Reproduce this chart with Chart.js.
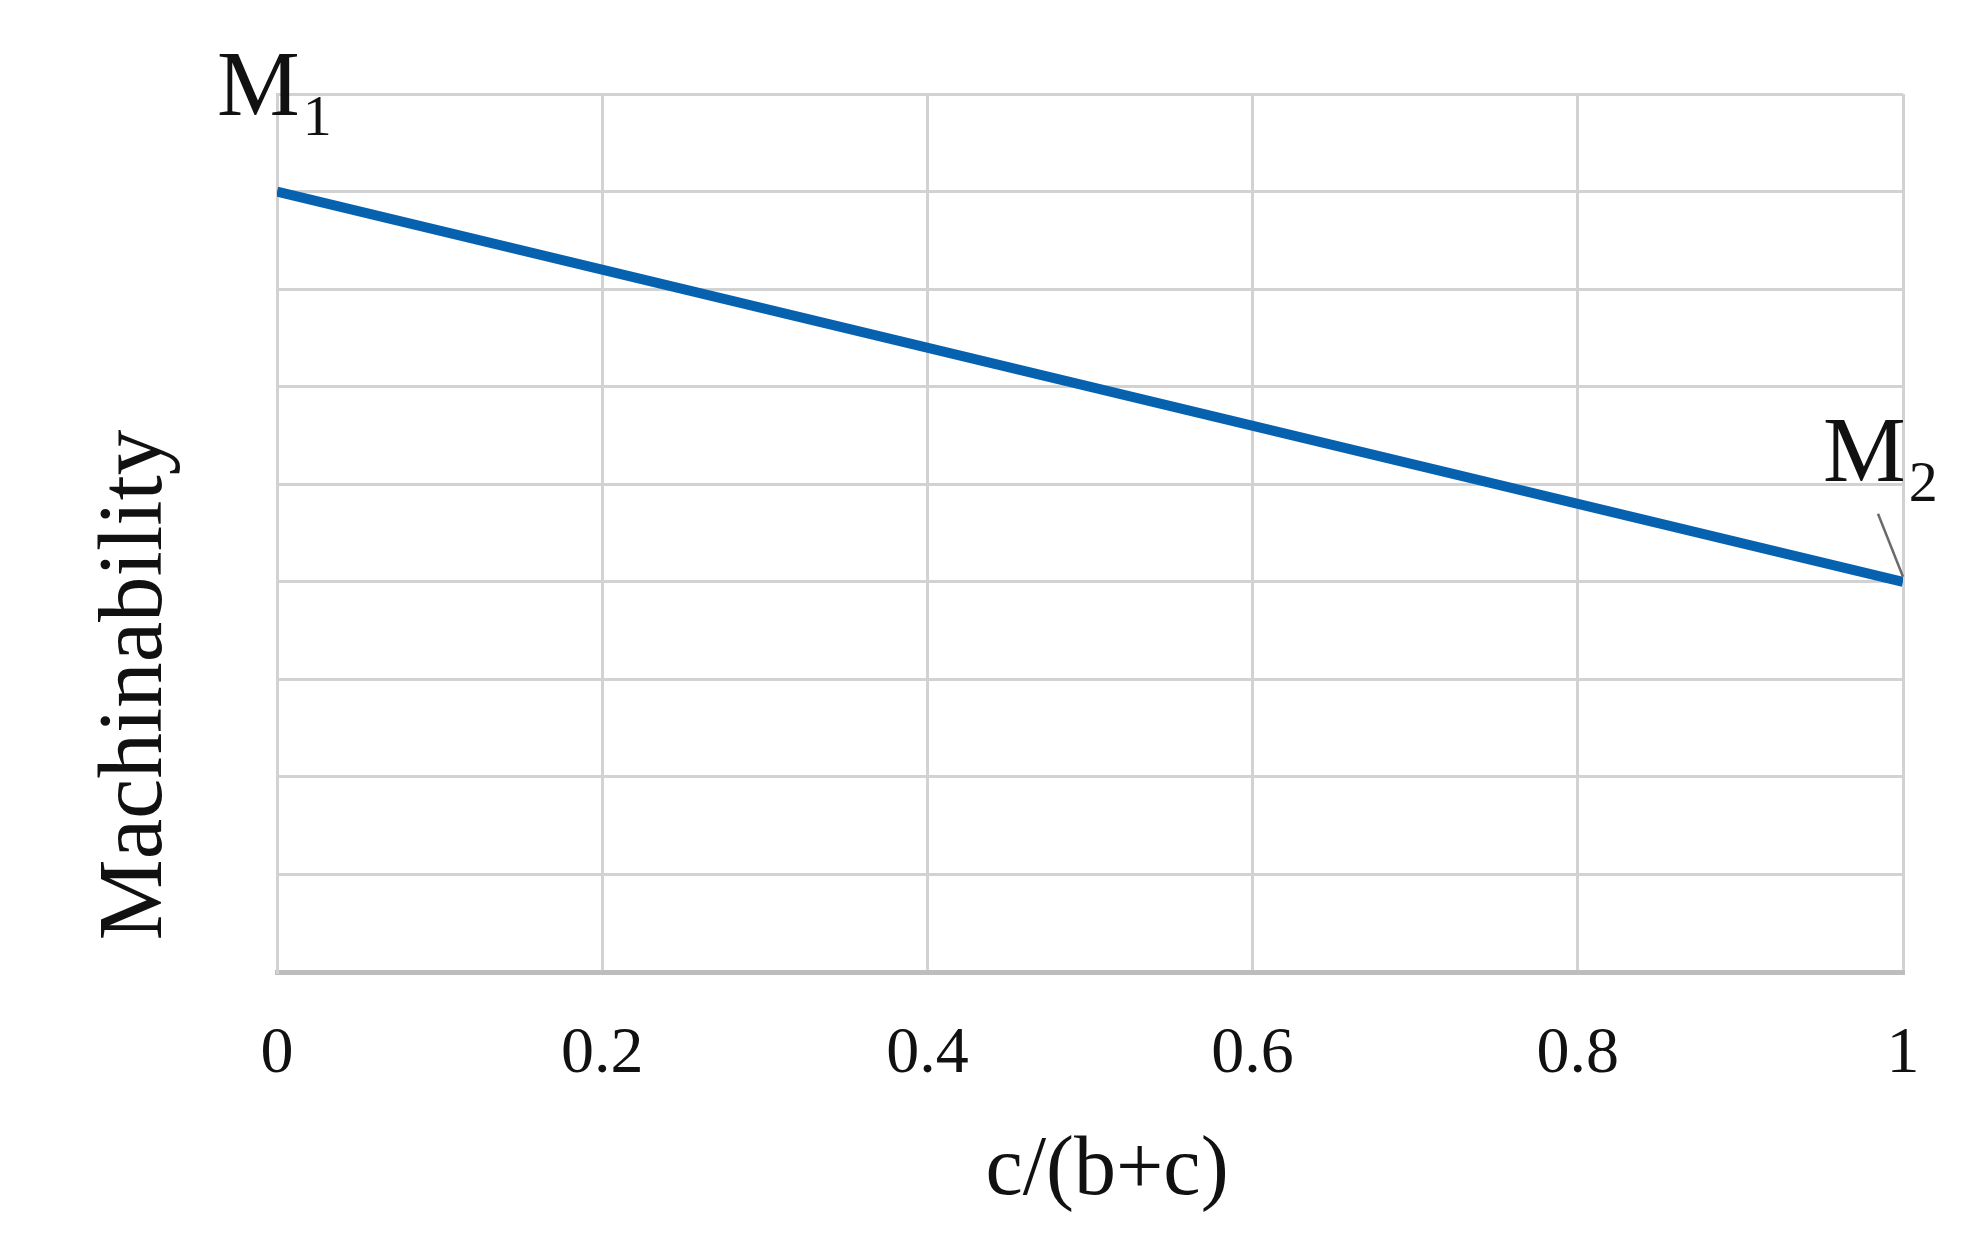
<!DOCTYPE html>
<html>
<head>
<meta charset="utf-8">
<script src="https://cdn.jsdelivr.net/npm/chart.js@4.4.1/dist/chart.umd.min.js"></script>
<style>
  html, body { margin: 0; padding: 0; background: #fff; }
  #wrap { width: 1986px; height: 1253px; }
</style>
</head>
<body>
<div id="wrap"><canvas id="chart" width="1986" height="1253"></canvas></div>
<script>
// -------------------- Data --------------------
const xValues = [0, 1];
const machinability = [8, 4];
const xTicks = [0, 0.2, 0.4, 0.6, 0.8, 1];
const xTitle = 'c/(b+c)';
const yTitle = 'Machinability';
const endLabels = [
    { main: "M", sub: "1", x: 0, y: 8 },
    { main: "M", sub: "2", x: 1, y: 4 }
];

const SERIF = "'Liberation Serif', 'Times New Roman', serif";

// -------------------- axis titles + M1 / M2 labels --------------------
const labelPlugin = {
    id: 'endLabels',
    afterDraw(chart) {
        const ctx = chart.ctx;
        const xs = chart.scales.x, ys = chart.scales.y;
        ctx.save();
        ctx.fillStyle = '#111';

        // axis titles (placed a little off-centre, as in the original figure)
        ctx.textAlign = 'center';
        ctx.textBaseline = 'middle';
        ctx.font = `84px ${SERIF}`;
        ctx.fillText(xTitle, (xs.left + xs.right) / 2 + 17, 1172);
        ctx.save();
        ctx.translate(137, (ys.top + ys.bottom) / 2 + 152);
        ctx.rotate(-Math.PI / 2);
        ctx.font = `91px ${SERIF}`;
        ctx.fillText(yTitle, 0, 0);
        ctx.restore();

        ctx.textBaseline = 'alphabetic';
        ctx.textAlign = 'left';
        endLabels.forEach((lab, i) => {
            const px = xs.getPixelForValue(lab.x);
            const py = ys.getPixelForValue(lab.y);
            let mx, my, sy;
            if (i === 0) { mx = px - 60; my = py - 77; sy = py - 57; }
            else { mx = px - 80; my = py - 101; sy = py - 81; }
            ctx.font = `93px ${SERIF}`;
            ctx.fillText(lab.main, mx, my);
            const w = ctx.measureText(lab.main).width;
            ctx.font = `58px ${SERIF}`;
            ctx.fillText(lab.sub, mx + w + 3, sy);
            if (i === 1) {
                // leader line from the label to the point
                ctx.strokeStyle = '#6b6b6b';
                ctx.lineWidth = 2.5;
                ctx.beginPath();
                ctx.moveTo(px - 25, py - 68);
                ctx.lineTo(px, py - 5);
                ctx.stroke();
            }
        });
        ctx.restore();
    }
};

new Chart(document.getElementById('chart').getContext('2d'), {
    type: 'line',
    data: {
        datasets: [{
            data: xValues.map((x, i) => ({ x: x, y: machinability[i] })),
            borderColor: '#0662ae',
            borderWidth: 10,
            pointRadius: 0,
            tension: 0,
            fill: false
        }]
    },
    options: {
        responsive: false,
        animation: false,
        layout: { padding: { top: 94, right: 83, left: 0, bottom: 0 } },
        plugins: { legend: { display: false }, tooltip: { enabled: false } },
        scales: {
            x: {
                type: 'linear',
                min: 0, max: 1,
                afterBuildTicks: scale => { scale.ticks = xTicks.map(v => ({ value: v })); },
                afterFit: scale => { scale.height = 281; },
                ticks: {
                    padding: 43,
                    color: '#111',
                    font: { family: SERIF, size: 66 },
                    maxRotation: 0,
                    callback: v => String(v)
                },
                grid: { color: '#d2d2d2', lineWidth: 3, drawTicks: false },
                border: { color: '#bdbdbd', width: 5 }
            },
            y: {
                min: 0, max: 9,
                ticks: { stepSize: 1, display: false },
                afterFit: scale => { scale.width = 277; },
                grid: { color: '#d2d2d2', lineWidth: 3, drawTicks: false },
                border: { color: '#d2d2d2', width: 3 }
            }
        }
    },
    plugins: [labelPlugin]
});
</script>
</body>
</html>
